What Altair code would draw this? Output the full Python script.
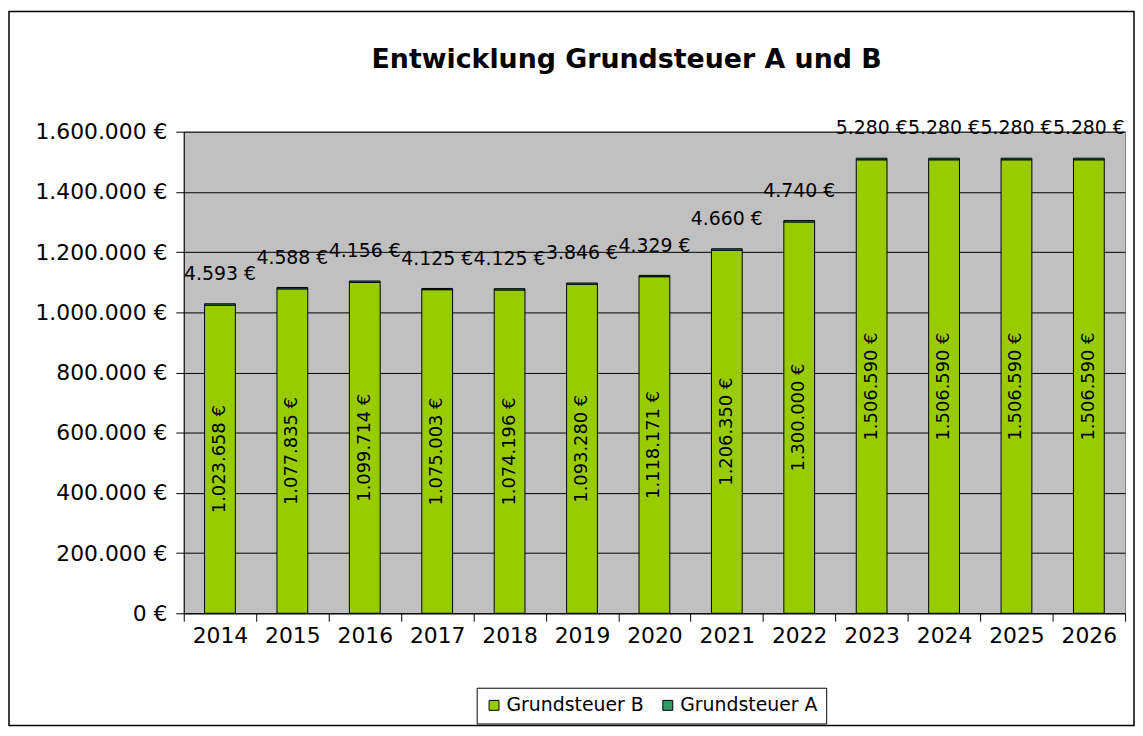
import altair as alt
import pandas as pd

years = ["2014", "2015", "2016", "2017", "2018", "2019", "2020",
         "2021", "2022", "2023", "2024", "2025", "2026"]
grundsteuer_b = [1023658, 1077835, 1099714, 1075003, 1074196, 1093280, 1118171,
                 1206350, 1300000, 1506590, 1506590, 1506590, 1506590]
grundsteuer_a = [4593, 4588, 4156, 4125, 4125, 3846, 4329,
                 4660, 4740, 5280, 5280, 5280, 5280]
series = ["Grundsteuer B", "Grundsteuer A"]
colors = ["#99CC00", "#339966"]
y_ticks = [0, 200000, 400000, 600000, 800000, 1000000, 1200000, 1400000, 1600000]


def fmt(v):
    return f"{v:,}".replace(",", ".") + " €"


rows = []
for y, b, a in zip(years, grundsteuer_b, grundsteuer_a):
    rows.append({"Jahr": y, "Art": series[0], "Wert": b, "ord": 0})
    rows.append({"Jahr": y, "Art": series[1], "Wert": a, "ord": 1})
long_df = pd.DataFrame(rows)

wide_df = pd.DataFrame({
    "Jahr": years,
    "B": grundsteuer_b,
    "A": grundsteuer_a,
    "B_label": [fmt(v) for v in grundsteuer_b],
    "A_label": [fmt(v) for v in grundsteuer_a],
})

W, H = 948, 485
FONT = "DejaVu Sans"

x_enc = alt.X("Jahr:N", sort=years, title=None,
              scale=alt.Scale(paddingInner=0, paddingOuter=0),
              axis=alt.Axis(labelAngle=0, tickBand="extent", tickSize=8,
                            labelPadding=4, labelFontSize=22, labelFont=FONT,
                            labelColor="black", domainColor="black",
                            tickColor="black", grid=False))

y_scale = alt.Scale(domain=[0, 1600000], nice=False)

bars = alt.Chart(long_df).mark_bar(size=31, stroke="black", strokeWidth=1).encode(
    x=x_enc,
    y=alt.Y("Wert:Q", stack="zero", scale=y_scale, title=None,
            axis=alt.Axis(values=y_ticks, tickSize=8, labelPadding=9,
                          labelFontSize=22, labelFont=FONT, labelColor="black",
                          domainColor="black", tickColor="black",
                          gridColor="black", gridWidth=1,
                          labelExpr="replace(format(datum.value, ','), regexp(',', 'g'), '.') + ' €'")),
    color=alt.Color("Art:N", scale=alt.Scale(domain=series, range=colors),
                    legend=alt.Legend(title=None, orient="none", direction="horizontal",
                                      legendX=295, legendY=560,
                                      symbolType="square", symbolSize=100,
                                      symbolStrokeColor="black", symbolStrokeWidth=1,
                                      labelFontSize=19, labelFont=FONT,
                                      labelColor="black", strokeColor="black",
                                      fillColor="white", padding=8,
                                      columnPadding=14, labelOffset=3)),
    order=alt.Order("ord:Q"),
)

b_labels = alt.Chart(wide_df).transform_calculate(
    mid="datum.B / 2"
).mark_text(angle=270, fontSize=18, font=FONT, color="black").encode(
    x=alt.X("Jahr:N", sort=years),
    y=alt.Y("mid:Q", scale=y_scale),
    text="B_label:N",
)

a_labels = alt.Chart(wide_df).transform_calculate(
    top="datum.B + datum.A"
).mark_text(fontSize=19, font=FONT, color="black", dy=-30).encode(
    x=alt.X("Jahr:N", sort=years),
    y=alt.Y("top:Q", scale=y_scale),
    text="A_label:N",
)

border = alt.Chart(pd.DataFrame({"k": [0]})).mark_rect(
    fillOpacity=0, stroke="black", strokeWidth=1.5
).encode(
    x=alt.value(-176), x2=alt.value(957),
    y=alt.value(-121), y2=alt.value(598),
)

chart = alt.layer(bars, b_labels, a_labels, border).properties(
    width=W, height=H,
    padding={"left": 177, "top": 122, "right": 10, "bottom": 114},
    autosize="none",
    view=alt.ViewBackground(fill="#C0C0C0", stroke="#808080"),
    title=alt.TitleParams("Entwicklung Grundsteuer A und B", fontSize=27,
                          font=FONT, fontWeight="bold", color="black",
                          anchor="middle", frame="group", offset=-64, dx=-28),
).configure(background="white")

chart.save("out.html", embed_options={"renderer": "svg", "actions": False})
